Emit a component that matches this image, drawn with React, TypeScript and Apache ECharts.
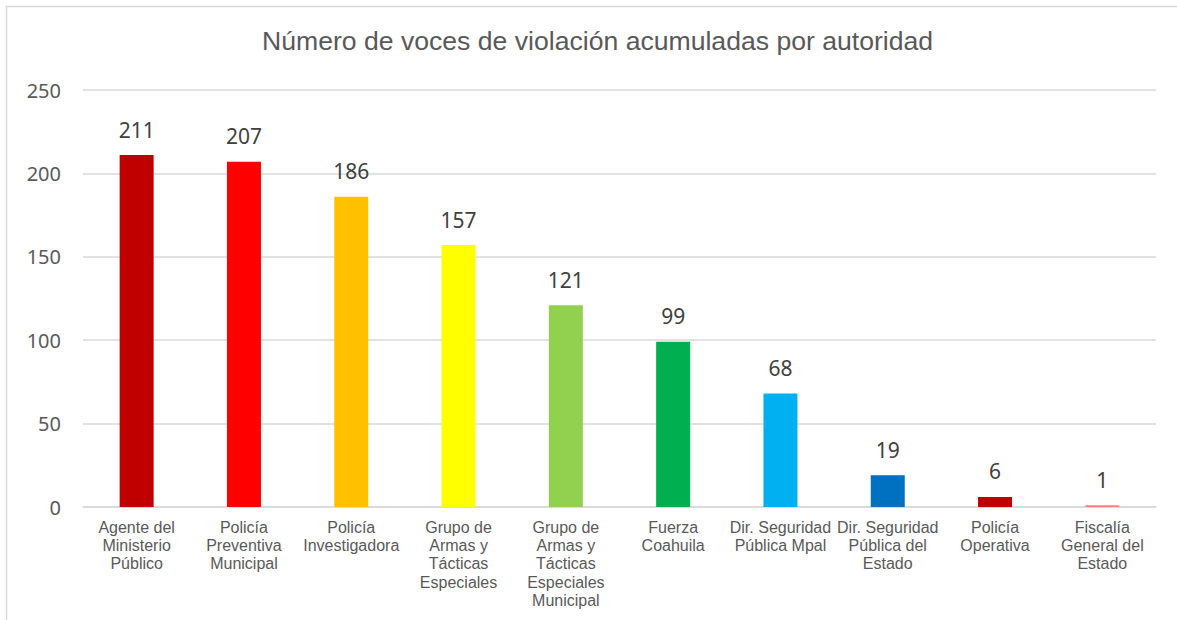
import React, { useEffect, useRef } from "react";
import * as echarts from "echarts";

const categories = [
  "Agente del\nMinisterio\nPúblico",
  "Policía\nPreventiva\nMunicipal",
  "Policía\nInvestigadora",
  "Grupo de\nArmas y\nTácticas\nEspeciales",
  "Grupo de\nArmas y\nTácticas\nEspeciales\nMunicipal",
  "Fuerza\nCoahuila",
  "Dir. Seguridad\nPública Mpal",
  "Dir. Seguridad\nPública del\nEstado",
  "Policía\nOperativa",
  "Fiscalía\nGeneral del\nEstado",
];
const values = [211, 207, 186, 157, 121, 99, 68, 19, 6, 1];
const barColors = [
  "#C00000", "#FF0000", "#FFC000", "#FFFF00", "#92D050",
  "#00B050", "#00B0F0", "#0070C0", "#C00000", "#FF7C80",
];
const yTicks = [0, 50, 100, 150, 200, 250];
const titleText = "Número de voces de violación acumuladas por autoridad";

export default function App() {
  const ref = useRef<HTMLDivElement>(null);
  useEffect(() => {
    if (!ref.current) return;
    const chart = echarts.init(ref.current, null, { renderer: "svg" });
    chart.setOption({
      animation: false,
      backgroundColor: "#ffffff",
      title: {
        text: titleText,
        left: 257,
        top: 22,
        textStyle: {
          fontFamily: "Liberation Sans, Arial, sans-serif",
          fontSize: 26.6,
          fontWeight: "normal",
          color: "#595959",
        },
      },
      graphic: [
        {
          type: "rect",
          shape: { x: 6.5, y: 6.5, width: 1300, height: 800 },
          style: { fill: "none", stroke: "#D9D9D9", lineWidth: 1.5 },
          silent: true,
        },
      ],
      grid: { left: 83, right: 21, top: 90, bottom: 113 },
      xAxis: {
        type: "category",
        data: categories,
        axisLine: { lineStyle: { color: "#D9D9D9", width: 1.5 } },
        axisTick: { show: false },
        axisLabel: {
          interval: 0,
          margin: 11,
          fontFamily: "Liberation Sans, Arial, sans-serif",
          fontSize: 16,
          lineHeight: 18.3,
          color: "#595959",
          verticalAlign: "top",
        },
      },
      yAxis: {
        type: "value",
        min: yTicks[0],
        max: yTicks[yTicks.length - 1],
        interval: 50,
        axisLine: { show: false },
        axisTick: { show: false },
        splitLine: { lineStyle: { color: "#D9D9D9", width: 1.5 } },
        axisLabel: {
          margin: 22,
          fontFamily: "Noto Sans, Open Sans, sans-serif",
          fontSize: 20,
          color: "#595959",
        },
      },
      series: [
        {
          type: "bar",
          data: values.map((v, i) => ({ value: v, itemStyle: { color: barColors[i] } })),
          barWidth: 34,
          label: {
            show: true,
            position: "top",
            distance: 15,
            fontFamily: "Noto Sans, Open Sans, sans-serif",
            fontSize: 21,
            color: "#404040",
          },
        },
      ],
    });
    return () => chart.dispose();
  }, []);
  return (
    <div
      ref={ref}
      style={{ position: "fixed", left: 0, top: 0, width: 1177, height: 620 }}
    />
  );
}
